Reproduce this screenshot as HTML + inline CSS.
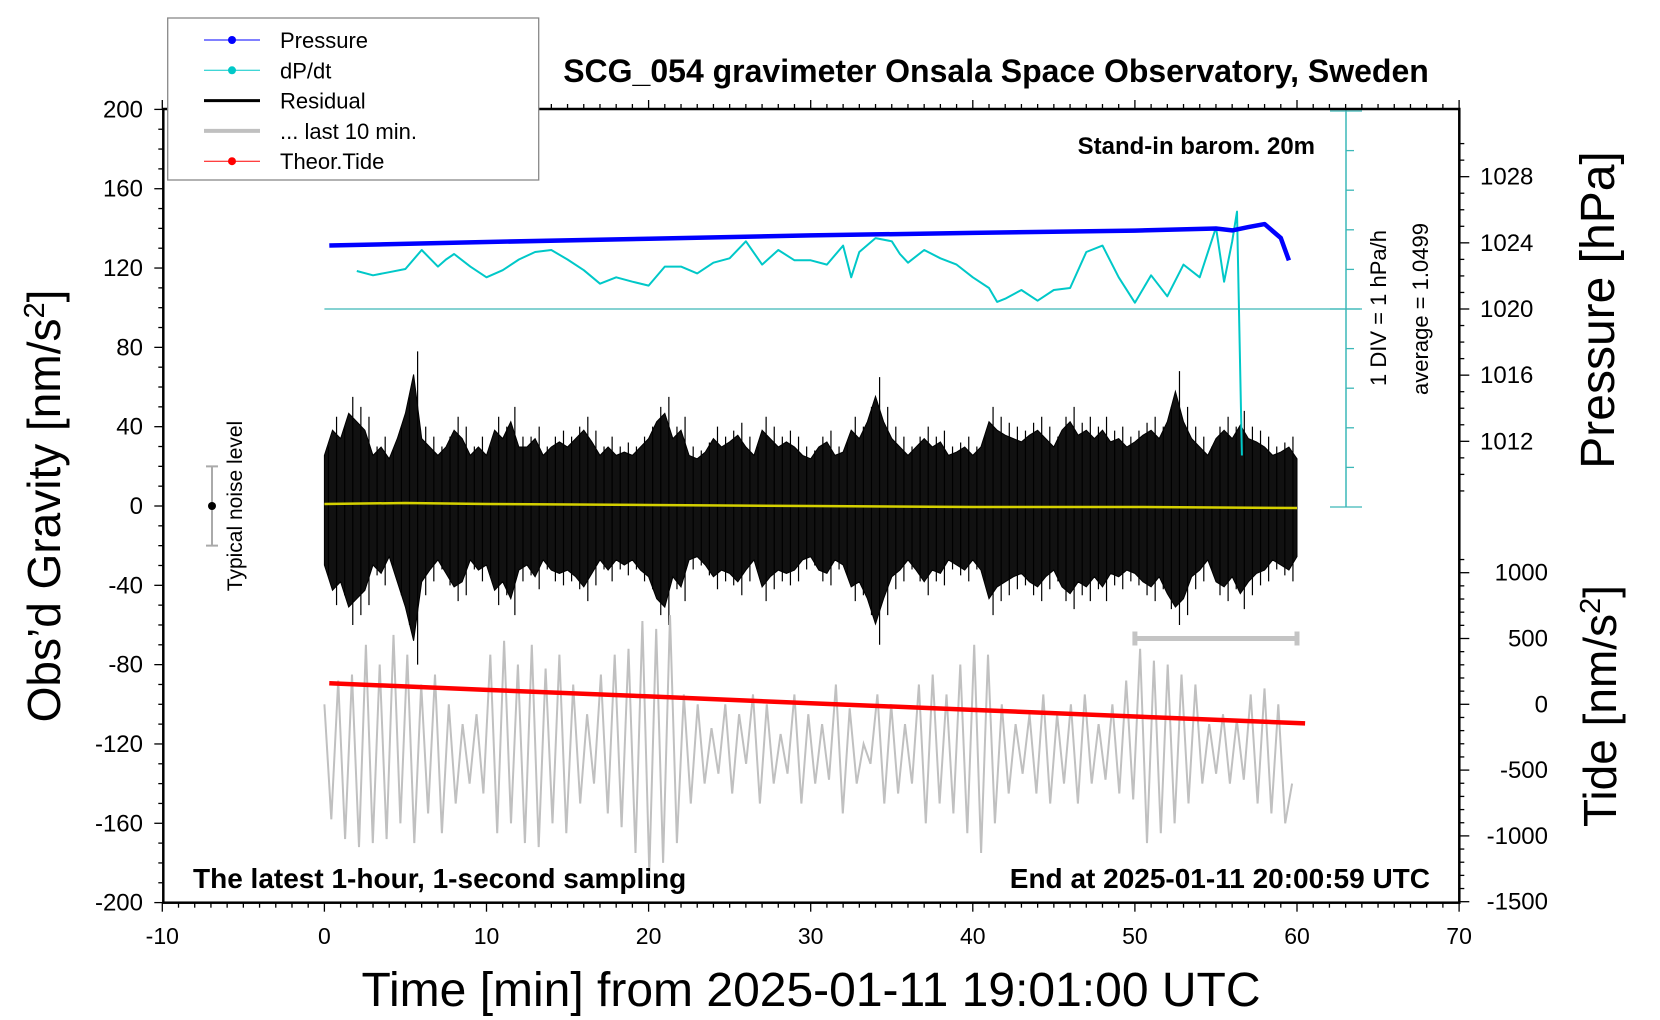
<!DOCTYPE html>
<html><head><meta charset="utf-8">
<style>
html,body{margin:0;padding:0;background:#fff;}
svg{display:block;font-family:"Liberation Sans",Arial,sans-serif;}
</style></head>
<body>
<svg id="chart" width="1660" height="1020" viewBox="0 0 1660 1020" xmlns="http://www.w3.org/2000/svg">
<rect x="0" y="0" width="1660" height="1020" fill="#fff"/>
<g id="marks"></g>
<g id="axes"></g>
</svg>
<script>
// ---------- data ----------
const pressTimes = [0.3, 10, 20, 30, 40, 50, 55, 56, 57, 58, 59, 59.5];
const pressVals = [1023.84, 1024.05, 1024.25, 1024.45, 1024.6, 1024.74, 1024.87, 1024.75, 1024.95, 1025.13, 1024.29, 1022.94];

const dpTimes = [2,3,4,5,6,7,7.5,8,9,10,11,12,13,14,15,16,17,18,19,20,21,22,23,24,25,26,27,28,29,30,31,32,32.5,33,34,35,35.5,36,37,38,39,40,41,41.5,42,43,44,45,46,47,48,49,50,51,52,53,54,55,55.5,56,56.3,56.6];
const dpVals = [0.96,0.85,0.93,1.01,1.49,1.07,1.25,1.39,1.07,0.80,0.98,1.25,1.44,1.49,1.25,0.98,0.64,0.80,0.69,0.59,1.07,1.07,0.90,1.17,1.28,1.71,1.12,1.49,1.23,1.23,1.12,1.60,0.80,1.44,1.79,1.71,1.39,1.17,1.49,1.28,1.12,0.80,0.53,0.18,0.26,0.48,0.21,0.48,0.53,1.44,1.60,0.80,0.16,0.85,0.32,1.12,0.80,2.06,0.69,1.71,2.46,-3.7];

const resUp = [30,45,40,55,50,45,30,35,28,40,55,78,40,35,30,35,45,40,30,35,30,45,40,50,35,35,40,30,35,38,35,40,45,38,30,35,30,32,30,35,40,50,55,40,45,30,28,32,40,35,38,42,35,30,45,40,35,38,35,30,28,35,38,30,32,45,40,50,65,50,40,35,30,35,40,35,38,30,32,35,30,35,50,45,42,40,38,42,45,40,35,45,50,42,45,40,45,38,40,35,38,42,45,40,50,68,50,40,35,30,40,45,40,48,40,38,35,30,32,35,28];
const resDown = [-35,-50,-45,-60,-55,-50,-35,-40,-30,-45,-60,-80,-45,-38,-32,-40,-48,-45,-32,-38,-35,-50,-45,-55,-38,-35,-42,-32,-38,-40,-38,-42,-48,-40,-32,-38,-32,-35,-32,-38,-42,-55,-60,-42,-48,-32,-30,-35,-42,-38,-40,-45,-38,-32,-48,-42,-38,-40,-38,-32,-30,-38,-40,-32,-35,-48,-45,-55,-70,-55,-42,-38,-32,-38,-45,-38,-40,-32,-35,-38,-32,-38,-55,-48,-45,-42,-40,-45,-48,-42,-38,-48,-52,-45,-48,-42,-48,-40,-42,-38,-40,-45,-48,-42,-52,-60,-55,-42,-38,-32,-45,-48,-42,-52,-45,-40,-38,-32,-35,-38,-30];

const yellowTimes = [0, 5, 10, 20, 30, 40, 50, 60];
const yellowVals = [1, 1.5, 1, 0.5, 0, -0.5, -0.5, -1];

const greyVals = [-100,-158,-88,-168,-85,-172,-70,-170,-80,-168,-65,-160,-75,-170,
 -90,-155,-85,-165,-100,-150,-110,-140,-105,-145,
 -75,-165,-68,-160,-80,-170,-70,-172,-82,-160,-75,-165,-90,-150,
 -105,-140,-85,-155,-75,-162,-72,-175,-58,-185,-62,-180,-55,-170,-95,-150,-100,-140,
 -112,-135,-100,-145,-105,-130,-95,-150,-100,-140,-115,-135,-95,-150,-105,-140,-110,-138,-90,-155,-102,-140,-120,-130,
 -95,-150,-100,-145,-110,-140,-90,-160,-85,-150,-95,-155,-80,-165,-70,-175,-75,-160,-100,-145,
 -110,-135,-105,-145,-95,-150,-105,-140,-100,-150,-95,-140,-110,-138,-100,-145,-88,-148,
 -72,-170,-78,-165,-80,-160,-85,-150,-90,-140,-110,-135,-105,-140,-108,-138,-95,-150,-92,-155,-100,-160,-140];

const tideTimes = [0.3, 10, 20, 30, 40, 50, 60.5];
const tideVals = [160, 110, 60, 8, -42, -93, -145];

const xTicks = [-10,0,10,20,30,40,50,60,70];
const gTicks = [200,160,120,80,40,0,-40,-80,-120,-160,-200];
const pTicks = [1028,1024,1020,1016,1012];
const tTicks = [1000,500,0,-500,-1000,-1500];

// ---------- scales ----------
const X = t => 324.4 + t * 16.21;
const G = g => 506 - g * 1.983;
const P = p => 309 - (p - 1020) * 16.54;
const D = v => 309 - v * 39.6;
const T = v => 704.3 - v * 0.1316;

const NS = 'http://www.w3.org/2000/svg';
const marks = document.getElementById('marks');
const axes = document.getElementById('axes');
function mk(tag, attrs, parent) {
  const e = document.createElementNS(NS, tag);
  for (const k in attrs) e.setAttribute(k, attrs[k]);
  parent.appendChild(e);
  return e;
}
function txt(s, attrs, parent) { const e = mk('text', attrs, parent); e.textContent = s; return e; }

// ---------- series ----------
let el = mk('line', {x1: X(0), y1: D(0), x2: 1360, y2: D(0), stroke: '#3cb8b8', 'stroke-width': 1.3}, marks);


el = mk('line', {x1: 1346, y1: 110, x2: 1346, y2: 507, stroke: '#3cb8b8', 'stroke-width': 1.5}, marks);


for (let i = -5; i <= 5; i++) {
  const y = D(i);
  if (y < 108 || y > 510) continue;
  const major = (i === 5 || i === -5 || i === 0);
  const t = mk('line', {x1: major ? 1330 : 1346, y1: y, x2: major ? 1362 : 1354, y2: y, stroke: '#3cb8b8', 'stroke-width': 1.3}, marks);
  
  
}

// residual band
let pts = [];
for (let i = 0; i < resUp.length; i++) pts.push(X(i * 0.5).toFixed(1) + ',' + G(resUp[i] * 0.85).toFixed(1));
for (let i = resDown.length - 1; i >= 0; i--) pts.push(X(i * 0.5).toFixed(1) + ',' + G(resDown[i] * 0.85).toFixed(1));
el = mk('polygon', {points: pts.join(' '), fill: '#111', stroke: '#000', 'stroke-width': 1}, marks);


for (let i = 0; i < resUp.length - 1; i++) {
  const s = mk('line', {x1: X(i * 0.5 + 0.25), y1: G(resUp[i]), x2: X(i * 0.5 + 0.25), y2: G(resDown[i]), stroke: '#000', 'stroke-width': 1.2}, marks);
  
  
}

el = mk('polyline', {points: yellowTimes.map((t, i) => X(t) + ',' + G(yellowVals[i])).join(' '), fill: 'none', stroke: '#d4d000', 'stroke-width': 2.5}, marks);



const gStep = 59.7 / (greyVals.length - 1);
el = mk('polyline', {points: greyVals.map((v, i) => X(i * gStep).toFixed(1) + ',' + G(v).toFixed(1)).join(' '), fill: 'none', stroke: '#c0c0c0', 'stroke-width': 2}, marks);



el = mk('polyline', {points: tideTimes.map((t, i) => X(t) + ',' + T(tideVals[i])).join(' '), fill: 'none', stroke: '#ff0000', 'stroke-width': 4.5}, marks);



el = mk('polyline', {points: dpTimes.map((t, i) => X(t).toFixed(1) + ',' + D(dpVals[i]).toFixed(1)).join(' '), fill: 'none', stroke: '#00c8c8', 'stroke-width': 2, 'stroke-linejoin': 'round'}, marks);



el = mk('polyline', {points: pressTimes.map((t, i) => X(t).toFixed(1) + ',' + P(pressVals[i]).toFixed(1)).join(' '), fill: 'none', stroke: '#0000ff', 'stroke-width': 4.5, 'stroke-linejoin': 'round'}, marks);



el = mk('path', {d: `M${X(50)},${T(500) - 7}V${T(500) + 7}M${X(50)},${T(500)}H${X(60)}M${X(60)},${T(500) - 7}V${T(500) + 7}`, stroke: '#c4c4c4', 'stroke-width': 5, fill: 'none'}, marks);



el = mk('path', {d: `M206,${G(20)}H218M212,${G(20)}V${G(-20)}M206,${G(-20)}H218`, stroke: '#aaa', 'stroke-width': 2, fill: 'none'}, marks);


el = mk('circle', {cx: 212, cy: G(0), r: 4, fill: '#000'}, marks);



// ---------- frame & axes ----------
const L = 163.3, R = 1459.3, TOP = 109, B = 902.7;
el = mk('rect', {x: L, y: TOP, width: R - L, height: B - TOP, fill: 'none', stroke: '#000', 'stroke-width': 2.5}, axes);



for (let t = -10; t <= 70; t++) {
  const major = t % 10 === 0;
  const len = major ? 9 : 5;
  mk('line', {x1: X(t), y1: B, x2: X(t), y2: B + len, stroke: '#000', 'stroke-width': 1.3}, axes);
  mk('line', {x1: X(t), y1: TOP, x2: X(t), y2: TOP - len, stroke: '#000', 'stroke-width': 1.3}, axes);
}
xTicks.forEach(t => {
  el = txt(String(t), {x: X(t), y: 944, 'font-size': 23, 'text-anchor': 'middle'}, axes);
  
  
});
for (let g = -200; g <= 200; g += 10) {
  const major = g % 40 === 0;
  mk('line', {x1: L, y1: G(g), x2: L - (major ? 9 : 5), y2: G(g), stroke: '#000', 'stroke-width': 1.3}, axes);
}
gTicks.forEach(g => {
  el = txt(String(g), {x: 143, y: G(g) + 8, 'font-size': 24, 'text-anchor': 'end'}, axes);
  
  
});
for (let p = 1009; p <= 1030; p++) {
  const y = P(p);
  if (y < TOP || y > 540) continue;
  const major = p % 4 === 0;
  mk('line', {x1: R, y1: y, x2: R + (major ? 10 : 5), y2: y, stroke: '#000', 'stroke-width': 1.3}, axes);
}
pTicks.forEach(p => {
  el = txt(String(p), {x: 1480, y: P(p) + 8, 'font-size': 24}, axes);
  
  
});
for (let v = -1500; v <= 1100; v += 100) {
  const y = T(v);
  if (y < 555 || y > B) continue;
  const major = v % 500 === 0;
  mk('line', {x1: R, y1: y, x2: R + (major ? 10 : 5), y2: y, stroke: '#000', 'stroke-width': 1.3}, axes);
}
tTicks.forEach(v => {
  el = txt(String(v), {x: 1548, y: T(v) + 8, 'font-size': 24, 'text-anchor': 'end'}, axes);
  
  
});

// ---------- labels ----------
el = txt('SCG_054 gravimeter Onsala Space Observatory, Sweden', {x: 996, y: 82, 'font-size': 32, 'font-weight': 'bold', 'text-anchor': 'middle'}, axes);


el = txt('Stand-in barom. 20m', {x: 1315, y: 154, 'font-size': 24, 'font-weight': 'bold', 'text-anchor': 'end'}, axes);


el = txt('The latest 1-hour, 1-second sampling', {x: 193, y: 888, 'font-size': 28, 'font-weight': 'bold'}, axes);


el = txt('End at 2025-01-11 20:00:59 UTC', {x: 1430, y: 888, 'font-size': 28, 'font-weight': 'bold', 'text-anchor': 'end'}, axes);


el = txt('Time [min] from 2025-01-11 19:01:00 UTC', {x: 811, y: 1006, 'font-size': 48, 'text-anchor': 'middle'}, axes);



el = mk('text', {transform: 'translate(60,506) rotate(-90)', 'font-size': 46, 'text-anchor': 'middle'}, axes);
el.innerHTML = 'Obs\u2019d Gravity [nm/s<tspan dy="-16" font-size="29">2</tspan><tspan dy="16">]</tspan>';


el = txt('Pressure [hPa]', {transform: 'translate(1614,310) rotate(-90)', 'font-size': 48, 'text-anchor': 'middle'}, axes);


el = mk('text', {transform: 'translate(1616,706) rotate(-90)', 'font-size': 46, 'text-anchor': 'middle'}, axes);
el.innerHTML = 'Tide [nm/s<tspan dy="-16" font-size="29">2</tspan><tspan dy="16">]</tspan>';


el = txt('1 DIV = 1 hPa/h', {transform: 'translate(1386,308) rotate(-90)', 'font-size': 22, 'text-anchor': 'middle'}, axes);


el = txt('average = 1.0499', {transform: 'translate(1428,309) rotate(-90)', 'font-size': 22, 'text-anchor': 'middle'}, axes);


el = txt('Typical noise level', {transform: 'translate(242,506) rotate(-90)', 'font-size': 21, 'text-anchor': 'middle'}, axes);



// ---------- legend ----------
const lg = mk('g', {}, axes);


mk('rect', {x: 167.7, y: 18, width: 371, height: 162, fill: '#fff', stroke: '#888', 'stroke-width': 1.3}, lg);
const legNames = ['Pressure', 'dP/dt', 'Residual', '... last 10 min.', 'Theor.Tide'];
const legColors = ['#0000ff', '#00c8c8', '#000', '#c0c0c0', '#ff0000'];
const legWidth = [1, 1, 3, 4, 1];
const legDot = [true, true, false, false, true];
legNames.forEach((n, i) => {
  const y = 40 + i * 30.3;
  const g = mk('g', {}, lg);
  
  
  mk('line', {x1: 204, y1: y, x2: 260, y2: y, stroke: legColors[i], 'stroke-width': legWidth[i]}, g);
  if (legDot[i]) mk('circle', {cx: 232, cy: y, r: 4, fill: legColors[i]}, g);
  txt(n, {x: 280, y: y + 8, 'font-size': 22}, g);
});
</script>
</body></html>
